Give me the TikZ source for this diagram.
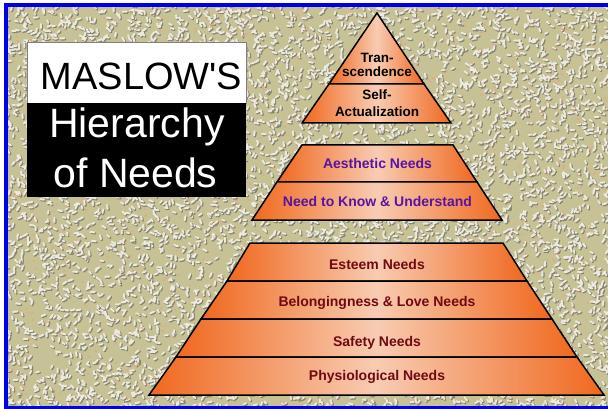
\documentclass[tikz,border=0pt]{standalone}
\usepackage{fontspec}
\setmainfont{Liberation Sans}
\usetikzlibrary{positioning}

\definecolor{stucco}{RGB}{198,194,150}
\definecolor{stuccolight}{RGB}{236,234,222}
\definecolor{stuccodark}{RGB}{136,132,112}
\definecolor{stuccopink}{RGB}{228,168,134}
\definecolor{frameblue}{RGB}{0,0,232}
\definecolor{tierorange}{RGB}{240,104,30}
\definecolor{tierpale}{RGB}{248,204,178}
\definecolor{needpurple}{RGB}{88,20,160}
\definecolor{needred}{RGB}{112,10,18}

\begin{document}
\begin{tikzpicture}[%
		x=1pt, y=-1pt,
		tier/.style={
			draw=black,
			line width=1.5pt,
			line join=miter,
			left color=tierorange,
			right color=tierorange,
			middle color=tierpale
		},
		toplabel/.style={
			anchor=base,
			inner sep=0pt,
			text=black,
			font=\fontsize{13.5}{14}\selectfont\bfseries
		},
		midlabel/.style={
			anchor=base,
			inner sep=0pt,
			text=needpurple,
			font=\fontsize{14}{14}\selectfont\bfseries
		},
		lowlabel/.style={
			anchor=base,
			inner sep=0pt,
			text=needred,
			font=\fontsize{14}{14}\selectfont\bfseries
		},
		titleline/.style={
			anchor=base,
			inner sep=0pt
		}]

		\useasboundingbox (0,0) rectangle (608,409);

		% CANVAS AND FRAME

		\fill[white] (0,0) rectangle (608,409);
		\fill[stucco] (8,7) rectangle (608,406);
		\begin{scope}
			\clip (8,7) rectangle (608,406);
			% same seed twice: shadows first, highlights on top
			\pgfmathsetseed{4711}
			\draw[stuccodark, line width=2.4pt, line cap=round] foreach \i in {1,...,4000} {({309+302*rand},{207+202*rand}) -- ++({180*rand}:4)};
			\pgfmathsetseed{4711}
			\draw[stuccolight, line width=2pt, line cap=round] foreach \i in {1,...,4000} {({308+302*rand},{206+202*rand}) -- ++({180*rand}:4)};
			\pgfmathsetseed{815}
			\draw[stuccodark, line width=2.2pt, line cap=round] foreach \i in {1,...,2500} {({309+302*rand},{207+202*rand}) -- ++({180*rand}:3)};
			\pgfmathsetseed{815}
			\draw[stuccolight, line width=1.8pt, line cap=round] foreach \i in {1,...,2500} {({308+302*rand},{206+202*rand}) -- ++({180*rand}:3)};
			\draw[stuccopink, line width=2pt, line cap=round] foreach \i in {1,...,900} {({308+300*rand},{206+200*rand}) -- ++(0:0.5)};
		\end{scope}
		\fill[frameblue] (4,3) rectangle (608,7);
		\fill[frameblue] (4,3) rectangle (8,409);
		\fill[frameblue] (4,406) rectangle (608,409);

		% TITLE BOX

		\draw[gray, fill=white] (27,42) rectangle (246,103);
		\fill[black] (27,103) rectangle (246,197);
		\node (maslow) [titleline, font=\fontsize{38}{38}\selectfont] at (141.5,90) {MASLOW\textquotesingle S};
		\node (hierarchy) [titleline, text=white, font=\fontsize{41}{41}\selectfont] at (137,138) {Hierarchy};
		\node (ofneeds) [titleline, text=white, font=\fontsize{41}{41}\selectfont] at (135.5,187) {of Needs};

		% PYRAMID TOP

		\draw[tier] (377,13) -- (424,84) -- (329,84) -- cycle;
		\draw[tier] (329,84) -- (424,84) -- (451,123) -- (302,123) -- cycle;
		\node (tran) [toplabel] at (377,63) {Tran-};
		\node (scend) [toplabel] at (377,77) {scendence};
		\node (self) [toplabel] at (377,100) {Self-};
		\node (actual) [toplabel] at (377,117) {Actualization};

		% PYRAMID MIDDLE

		\draw[tier] (302,145) -- (453,145) -- (477,182) -- (277,182) -- cycle;
		\draw[tier] (277,182) -- (477,182) -- (502,220) -- (252,220) -- cycle;
		\node (aesthetic) [midlabel] at (377.5,168) {Aesthetic Needs};
		\node (know) [midlabel] at (377.5,207) {Need to Know \& Understand};

		% PYRAMID BASE

		\draw[tier] (250,243) -- (503,243) -- (527,281) -- (227,281) -- cycle;
		\draw[tier] (227,281) -- (527,281) -- (552,319) -- (201,319) -- cycle;
		\draw[tier] (201,319) -- (552,319) -- (577,357) -- (176,357) -- cycle;
		\draw[tier] (176,357) -- (577,357) -- (604,395) -- (149,395) -- cycle;
		\node (esteem) [lowlabel] at (377,269) {Esteem Needs};
		\node (belong) [lowlabel] at (377,306) {Belongingness \& Love Needs};
		\node (safety) [lowlabel] at (377,346) {Safety Needs};
		\node (physio) [lowlabel] at (377,380) {Physiological Needs};
\end{tikzpicture}
\end{document}
